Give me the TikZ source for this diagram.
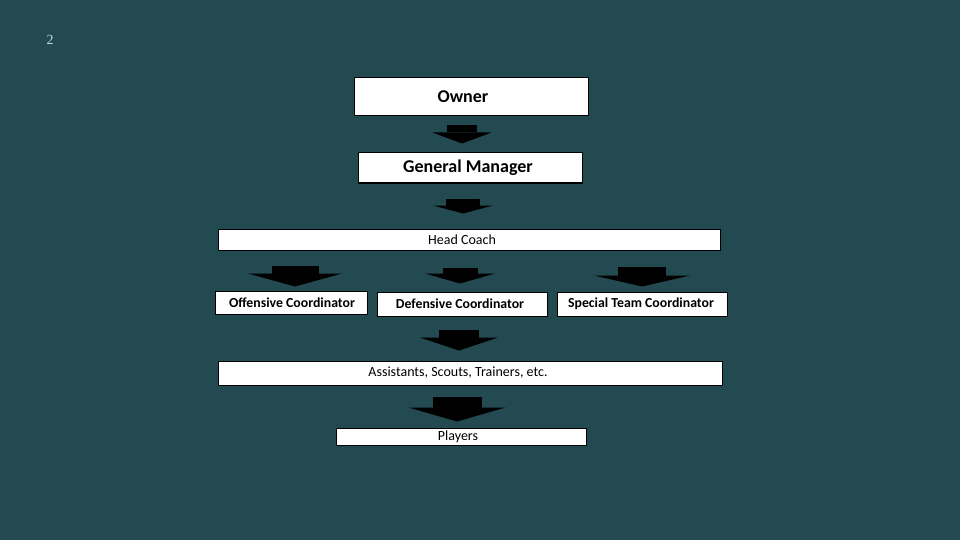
\documentclass[tikz,border=0pt]{standalone}
\usepackage{fontspec}
\setmainfont{Carlito}
\newfontfamily\pagefont{Liberation Serif}
\usepackage{xcolor}
\usetikzlibrary{arrows.meta, positioning}
\definecolor{slidebg}{RGB}{34,74,80}
\definecolor{pagenum}{RGB}{200,214,216}
\tikzset{
	block/.style={draw=black, fill=white, line width=1pt, inner sep=0pt},
	bigtext/.style={font=\fontsize{18}{20}\selectfont\bfseries},
	midtext/.style={font=\fontsize{13.8}{15}\selectfont\bfseries},
	smalltext/.style={font=\fontsize{14}{16}\selectfont},
	blockarrow/.style n args={3}{draw=black, line width=#1pt,
		-{Triangle[width=#2pt, length=#3pt, line width=0pt]}}
}

\begin{document}
\begin{tikzpicture}[x=1pt, y=-1pt]
		% Slide background
		\fill[slidebg] (0,0) rectangle (960,540);
		\useasboundingbox (0,0) rectangle (960,540);
		\node[pagenum, font=\pagefont\fontsize{14}{16}\selectfont] (pagenr) at (50,40) {2};
		
		% Owner
		\node[block, minimum width=234pt, minimum height=38pt] (owner) at (471,97) {};
		\node[bigtext] at ([xshift=-8pt]owner.center) {Owner};
		
		% General Manager
		\node[block, minimum width=224pt, minimum height=30pt] (gm) at (470,168) {};
		\node[bigtext] at ([xshift=-2pt]gm.center) {General Manager};
		
		% Head Coach
		\node[block, minimum width=502pt, minimum height=21pt] (hc) at (469,239.5) {};
		\node[smalltext] at ([xshift=-7pt]hc.center) {Head Coach};
		
		% Coordinators
		\node[block, minimum width=152pt, minimum height=23pt] (off) at (291,302.5) {};
		\node[midtext] at ([xshift=1pt]off.center) {Offensive Coordinator};
		\node[block, minimum width=170pt, minimum height=24pt] (def) at (462,304) {};
		\node[midtext] at ([xshift=-2pt]def.center) {Defensive Coordinator};
		\node[block, minimum width=170pt, minimum height=24pt] (spec) at (642,304) {};
		\node[midtext] at ([xshift=-1pt]spec.center) {Special Team Coordinator};
		
		% Assistants
		\node[block, minimum width=504pt, minimum height=24pt] (asst) at (470,373) {};
		\node[smalltext] at ([xshift=-12pt]asst.center) {Assistants, Scouts, Trainers, etc.};
		
		% Players
		\node[block, minimum width=250pt, minimum height=17pt] (players) at (461,436.5) {};
		\node[smalltext] at ([xshift=-3pt]players.center) {Players};
		
		% Arrows
		\draw[blockarrow={30}{59}{11}, shorten <=9pt, shorten >=9pt] ([xshift=-9pt]owner.south) -- ([xshift=-9pt]owner.south |- gm.north);
		\draw[blockarrow={34}{60}{8}, shorten <=15pt, shorten >=15pt] ([xshift=-7pt]gm.south) -- ([xshift=-7pt]gm.south |- hc.north);
		\draw[blockarrow={47}{94}{13}, shorten <=15pt, shorten >=4pt] ([xshift=4pt]off.north |- hc.south) -- ([xshift=4pt]off.north);
		\draw[blockarrow={35}{70}{10}, shorten <=17pt, shorten >=8pt] ([xshift=-2pt]def.north |- hc.south) -- ([xshift=-2pt]def.north);
		\draw[blockarrow={48}{96}{11}, shorten <=16pt, shorten >=5pt] (spec.north |- hc.south) -- (spec.north);
		\draw[blockarrow={40}{78}{13}, shorten <=13pt, shorten >=10pt] ([xshift=-3pt]def.south) -- ([xshift=-3pt]def.south |- asst.north);
		\draw[blockarrow={49}{97}{14}, shorten <=11pt, shorten >=6pt] ([xshift=-4pt]players.north |- asst.south) -- ([xshift=-4pt]players.north);
	\end{tikzpicture}
\end{document}
